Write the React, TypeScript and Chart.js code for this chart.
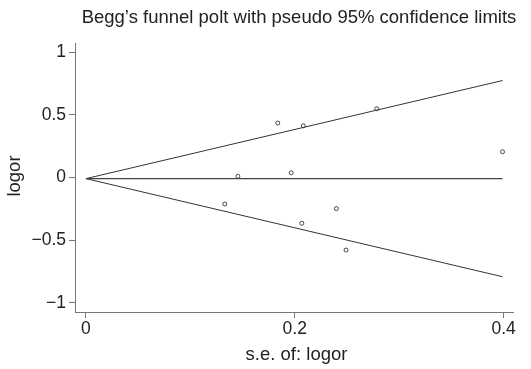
import React, { useEffect, useRef } from "react";
import { Chart, registerables } from "chart.js";
Chart.register(...registerables);

const chartTitle = "Begg\u2019s funnel polt with pseudo 95% confidence limits";
const xTitle = "s.e. of: logor";
const yTitle = "logor";
const seValues = [0.133, 0.1455, 0.1837, 0.1965, 0.2067, 0.2082, 0.2398, 0.2491, 0.2785, 0.399];
const logorValues = [-0.211, 0.01, 0.434, 0.037, -0.365, 0.412, -0.248, -0.578, 0.548, 0.205];
const pooledLogor = -0.009;
const seRange = [0, 0.399];
const zCrit = 1.96;
const xTicks = [0, 0.2, 0.4];
const yTicks = [-1, -0.5, 0, 0.5, 1];

const FONT = '"Liberation Sans", Arial, Helvetica, sans-serif';

function fmt(v: number) {
  const s = String(Math.abs(v));
  return v < 0 ? "\u2212" + s : s;
}

export default function App() {
  const ref = useRef<HTMLCanvasElement | null>(null);
  useEffect(() => {
    const canvas = ref.current!;
    const points = seValues.map((s, i) => ({ x: s, y: logorValues[i] }));
    const upper = seRange.map((s) => ({ x: s, y: pooledLogor + zCrit * s }));
    const lower = seRange.map((s) => ({ x: s, y: pooledLogor - zCrit * s }));
    const center = seRange.map((s) => ({ x: s, y: pooledLogor }));
    const lineDs = (data: any, color: string, w: number) => ({
      type: "line" as const,
      data,
      showLine: true,
      borderColor: color,
      borderWidth: w,
      pointRadius: 0,
      fill: false,
    });
    const textPlugin = {
      id: "texts",
      afterDraw(chart: any) {
        const ctx = chart.ctx;
        ctx.save();
        ctx.fillStyle = "#222";
        ctx.font = `18.5px ${FONT}`;
        ctx.textAlign = "center";
        ctx.textBaseline = "alphabetic";
        ctx.fillText(chartTitle, 299, 23);
        ctx.fillText(xTitle, 296.5, 360);
        ctx.translate(20, 176);
        ctx.rotate(-Math.PI / 2);
        ctx.fillText(yTitle, 0, 0);
        ctx.restore();
      },
    };
    const chart = new Chart(canvas, {
      type: "scatter",
      data: {
        datasets: [
          lineDs(center, "#444", 1.2),
          lineDs(upper, "#333", 1),
          lineDs(lower, "#333", 1),
          {
            type: "scatter" as const,
            data: points,
            pointRadius: 2,
            pointStyle: "circle",
            backgroundColor: "rgba(255,255,255,0)",
            borderColor: "#333",
            borderWidth: 0.9,
          },
        ] as any,
      },
      options: {
        animation: false,
        responsive: false,
        layout: { padding: { top: 43, right: 18, left: 0, bottom: 0 } },
        plugins: { legend: { display: false }, tooltip: { enabled: false }, title: { display: false } },
        scales: {
          x: {
            type: "linear",
            min: -0.0105,
            max: 0.409,
            afterBuildTicks: (s: any) => {
              s.ticks = xTicks.map((v) => ({ value: v }));
            },
            afterFit: (s: any) => {
              s.height = 57;
            },
            grid: { drawOnChartArea: false, drawTicks: true, tickLength: 6, color: "#777", lineWidth: 1 },
            border: { display: true, color: "#777", width: 1 },
            ticks: {
              padding: 1,
              color: "#222",
              font: { family: FONT, size: 17.5 },
              callback: (v: any) => fmt(Number(v)),
              maxRotation: 0,
            },
          },
          y: {
            type: "linear",
            min: -1.072,
            max: 1.072,
            afterBuildTicks: (s: any) => {
              s.ticks = yTicks.map((v) => ({ value: v }));
            },
            afterFit: (s: any) => {
              s.width = 75;
            },
            grid: { drawOnChartArea: false, drawTicks: true, tickLength: 6, color: "#777", lineWidth: 1 },
            border: { display: true, color: "#777", width: 1 },
            ticks: {
              padding: 3,
              color: "#222",
              font: { family: FONT, size: 17.5 },
              callback: (v: any) => fmt(Number(v)),
            },
          },
        },
      } as any,
      plugins: [textPlugin],
    });
    return () => chart.destroy();
  }, []);
  return (
    <div style={{ position: "fixed", left: 0, top: 0, width: 531, height: 369, background: "#fff" }}>
      <canvas ref={ref} width={531} height={369} style={{ width: 531, height: 369, display: "block" }} />
    </div>
  );
}
